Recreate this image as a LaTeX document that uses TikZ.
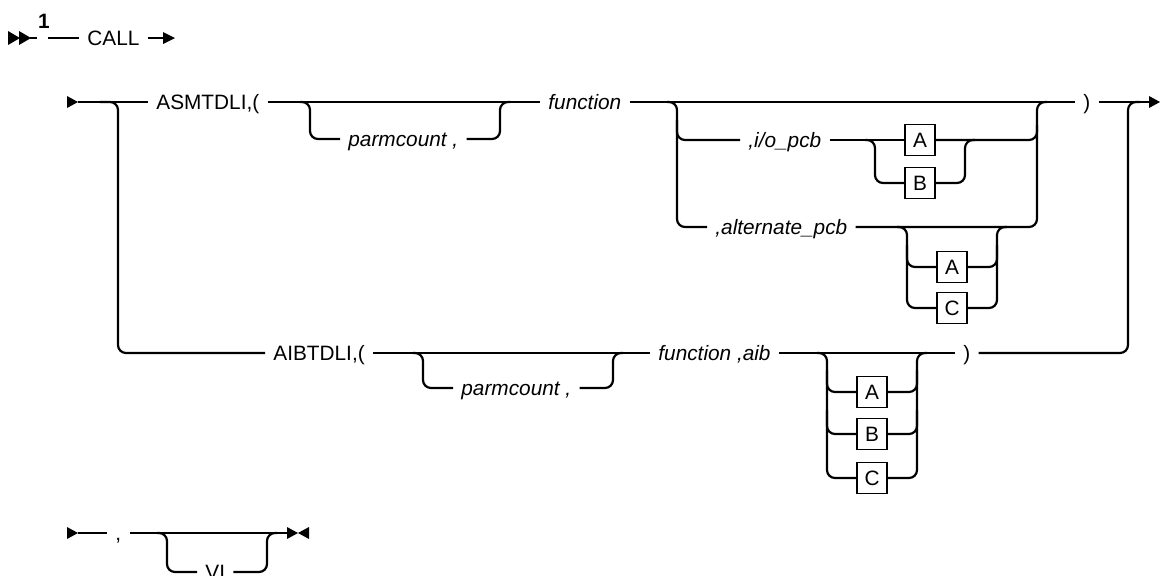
\documentclass[tikz,border=0pt]{standalone}
\usepackage{fontspec}
\setmainfont{Liberation Sans}
\begin{document}
\begin{tikzpicture}[x=0.5pt,y=-0.5pt,
  ln/.style={line width=1.1pt, rounded corners=4pt},
  txt/.style={inner xsep=4pt, inner ysep=0pt, text height=8pt, text depth=1pt, anchor=west, font=\fontsize{10.4}{12}\selectfont},
  vr/.style={txt, font=\fontsize{10.4}{12}\selectfont\itshape},
  box/.style={draw, line width=0.9pt, minimum width=15pt, minimum height=15.5pt, inner sep=0pt, font=\fontsize{10.4}{12}\selectfont}]
\useasboundingbox (0,0) rectangle (1160,575);

% ---- row 0
\fill (8,31) -- (20,38) -- (8,45) -- cycle;
\fill (19,31) -- (31,38) -- (19,45) -- cycle;
\coordinate (s0) at (30,38);
\coordinate (s0e) at (37,38);
\draw[ln] (s0) -- (s0e);
\node[txt, anchor=base, font=\fontsize{10.4}{12}\selectfont\bfseries] (one) at (44,28) {1};
\coordinate (c0) at (48,38);
\node[txt] (call) at (79,38) {CALL};
\draw[ln] (c0) -- (call.west);
\coordinate (c0e) at (164,38);
\draw[ln] (call.east) -- (c0e);
\fill (163,32) -- (175,38) -- (163,44) -- cycle;

% ---- row 1
\fill (67,96) -- (78,102) -- (67,108) -- cycle;
\coordinate (s1) at (78,102);
\node[txt] (asm) at (148,102) {ASMTDLI,(};
\draw[ln] (s1) -- (asm.west);
\node[txt] (aibt) at (265,353) {AIBTDLI,(};
\draw[ln] (100,102) -- (118,102) -- (118,353) -- (aibt.west);
\node[vr] (p1) at (340,139) {parmcount ,};
\node[vr] (f1) at (540,102) {function};
\draw[ln] (asm.east) -- (f1.west);
\draw[ln] (300,102) -- (310,102) -- (310,139) -- (p1.west);
\draw[ln] (p1.east) -- (500,139) -- (500,102) -- (510,102);
\node[txt] (rp1) at (1075,102) {)};
\draw[ln] (f1.east) -- (rp1.west);
\coordinate (e1) at (1150,102);
\draw[ln] (rp1.east) -- (e1);
\fill (1149,96) -- (1160,102) -- (1149,108) -- cycle;

% i/o_pcb and alternate_pcb
\node[vr] (io) at (740,140) {,i/o\_pcb};
\node[vr] (alt) at (707,227) {,alternate\_pcb};
\draw[ln] (667,102) -- (677,102) -- (677,227) -- (alt.west);
\draw[ln] (677,120) -- (677,140) -- (io.west);
\node[box] (ba) at (920,140) {A};
\node[box] (bb) at (920,183) {B};
\draw[ln] (io.east) -- (ba.west);
\draw[ln] (865,140) -- (875,140) -- (875,183) -- (bb.west);
\draw[ln] (bb.east) -- (965,183) -- (965,140) -- (975,140);
\draw[ln] (ba.east) -- (1037,140) -- (1037,102) -- (1047,102);
\draw[ln] (alt.east) -- (1037,227) -- (1037,125);
\node[box] (ca) at (952,267) {A};
\node[box] (cc) at (952,308) {C};
\draw[ln] (897,227) -- (907,227) -- (907,267) -- (ca.west);
\draw[ln] (907,245) -- (907,308) -- (cc.west);
\draw[ln] (ca.east) -- (997,267) -- (997,227) -- (1007,227);
\draw[ln] (cc.east) -- (997,308) -- (997,245);

% ---- row 3
\node[vr] (p2) at (453,388) {parmcount ,};
\node[vr] (f2) at (650,353) {function ,aib};
\draw[ln] (aibt.east) -- (f2.west);
\draw[ln] (413,353) -- (423,353) -- (423,388) -- (p2.west);
\draw[ln] (p2.east) -- (613,388) -- (613,353) -- (623,353);
\node[txt] (rp2) at (955,353) {)};
\draw[ln] (f2.east) -- (rp2.west);
\node[box] (da) at (872,392) {A};
\node[box] (db) at (872,434) {B};
\node[box] (dc) at (872,478) {C};
\draw[ln] (817,353) -- (827,353) -- (827,392) -- (da.west);
\draw[ln] (827,370) -- (827,434) -- (db.west);
\draw[ln] (827,410) -- (827,478) -- (dc.west);
\draw[ln] (da.east) -- (917,392) -- (917,353) -- (927,353);
\draw[ln] (db.east) -- (917,434) -- (917,370);
\draw[ln] (dc.east) -- (917,478) -- (917,410);
\draw[ln] (rp2.east) -- (1128,353) -- (1128,102) -- (1140,102);

% ---- row 4
\fill (67,527) -- (78,533) -- (67,539) -- cycle;
\coordinate (s4) at (78,533);
\node[txt] (comma) at (107,533) {,};
\draw[ln] (s4) -- (comma.west);
\coordinate (e4) at (287,533);
\draw[ln] (comma.east) -- (e4);
\node[txt] (vi) at (197,572) {VI};
\draw[ln] (157,533) -- (167,533) -- (167,572) -- (vi.west);
\draw[ln] (vi.east) -- (267,572) -- (267,533) -- (277,533);
\fill (287,527) -- (298,533) -- (287,539) -- cycle;
\fill (309,527) -- (298,533) -- (309,539) -- cycle;
\end{tikzpicture}
\end{document}
